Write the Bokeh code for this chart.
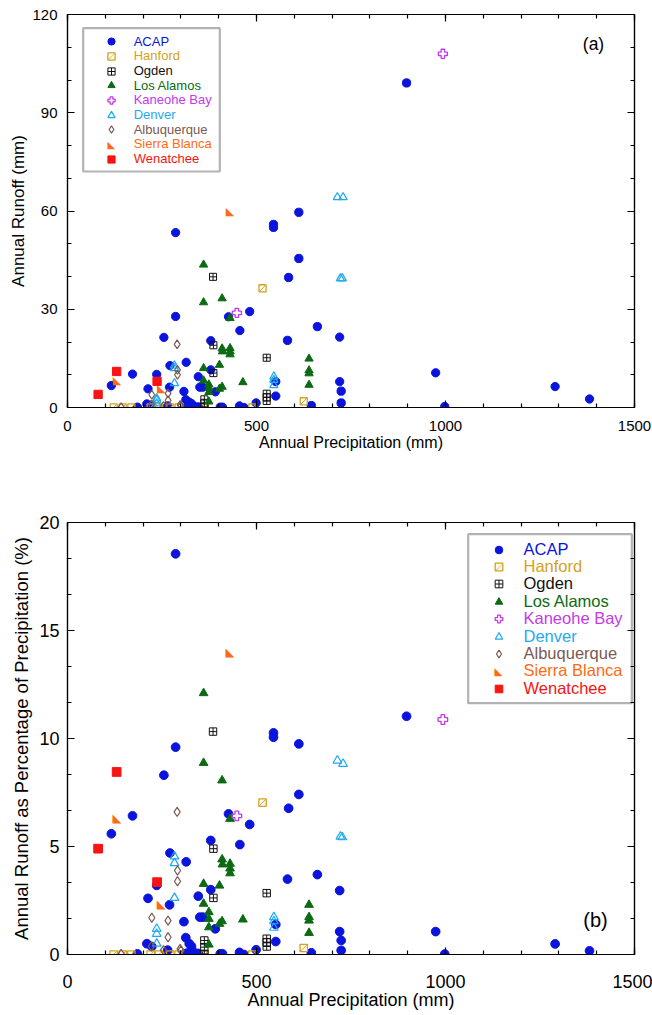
import math
from bokeh.plotting import figure
from bokeh.models import (ColumnDataSource, Legend, LegendItem, LinearAxis, BoxAnnotation,
                          Label, FixedTicker, Range1d, CustomJSTickFormatter)
from bokeh.layouts import column
from bokeh.embed import file_html
from bokeh.resources import INLINE
from bokeh.core.properties import value

FONT = "Liberation Sans"

# ---------------- data (precipitation mm, runoff mm, runoff % of precipitation) -------------
acap_precip = [897, 612, 545, 545, 286, 612, 585, 482, 286, 426, 661, 456, 255, 720, 582, 379,
               314, 271, 236, 172, 379, 974, 346, 116, 213, 350, 358, 308, 551, 551, 720, 724,
               724, 998, 1290, 1381, 645, 499, 391, 270, 313, 322, 328, 210, 223, 185, 265, 316,
               326, 336, 346, 404, 410, 455, 467]
acap_runoff = [99.1, 59.6, 55.9, 55.0, 53.4, 45.5, 39.7, 29.3, 27.8, 27.7, 24.7, 23.5, 21.4, 21.5,
               20.5, 20.4, 13.8, 12.8, 10.1, 10.2, 11.5, 10.6, 9.4, 6.7, 5.7, 6.2, 6.2, 4.9, 3.5,
               7.9, 7.9, 5.0, 1.4, 0.3, 6.4, 2.6, 0.6, 1.4, 4.8, 6.2, 2.4, 1.6, 1.2, 1.1, 0.8, 0.1,
               0.5, 0.2, 0.2, 0.3, 0.2, 0.1, 0.1, 0.5, 0.0]
acap_pct = [11.03, 9.75, 10.26, 10.06, 18.55, 7.41, 6.77, 6.02, 9.6, 6.51, 3.70, 5.09, 8.30, 2.96,
            3.49, 5.28, 4.29, 4.70, 3.20, 6.42, 3.00, 1.06, 2.70, 5.59, 2.60, 1.73, 1.73, 1.52,
            0.60, 1.39, 1.06, 0.65, 0.19, 0.02, 0.49, 0.17, 0.08, 0.22, 1.19, 2.30, 0.78, 0.50,
            0.38, 0.50, 0.37, 0.03, 0.20, 0.06, 0.05, 0.08, 0.05, 0.03, 0.03, 0.10, 0.00]

hanford_precip = [122, 146, 169, 220, 242, 272, 294, 363, 489, 625, 516]
hanford_runoff = [0, 0, 0, 0, 0, 0, 0, 0, 0, 1.9, 36.4]
hanford_pct = [0, 0, 0, 0, 0, 0, 0, 0, 0, 0.30, 7.03]

ogden_precip = [385, 386, 386, 527, 527, 527, 527, 362, 362, 362]
ogden_runoff = [39.9, 19.0, 10.5, 15.2, 4.2, 3.1, 2.0, 2.5, 1.2, 0.1]
ogden_pct = [10.32, 4.90, 2.62, 2.84, 0.73, 0.57, 0.37, 0.65, 0.34, 0.03]

losalamos_precip = [360, 409, 360, 430, 409, 410, 430, 430, 430, 402, 360, 639, 639, 639, 639,
                    360, 464, 374, 374, 374, 402, 409, 374]
losalamos_runoff = [43.6, 33.3, 32.1, 27.3, 18.0, 17.1, 18.1, 17.1, 16.2, 13.0, 12.0, 14.9, 11.3,
                    10.4, 6.9, 8.2, 7.7, 7.0, 5.9, 4.7, 5.7, 6.3, 1.8]
losalamos_pct = [12.1, 8.06, 8.87, 6.28, 4.40, 4.17, 4.20, 3.98, 3.76, 3.19, 3.27, 2.30, 1.73,
                 1.57, 1.00, 2.35, 1.62, 1.96, 1.65, 1.26, 1.42, 1.54, 0.46]

kaneohe_precip = [993, 448]
kaneohe_runoff = [108.0, 28.9]
kaneohe_pct = [10.88, 6.42]

denver_precip = [714, 729, 722, 727, 283, 283, 283, 236, 236, 236, 546, 546, 546]
denver_runoff = [64.2, 64.2, 39.4, 39.4, 12.8, 12.0, 7.4, 2.8, 2.25, 1.2, 9.4, 8.4, 6.8]
denver_pct = [8.98, 8.83, 5.46, 5.43, 4.54, 4.23, 2.62, 1.19, 0.96, 0.50, 1.73, 1.54, 1.24]

albuquerque_precip = [290, 291, 291, 223, 266, 266, 222, 254, 298, 300, 142]
albuquerque_runoff = [19.3, 11.5, 10.0, 3.9, 4.3, 2.2, 0.85, 0.5, 0.8, 0.55, 0.1]
albuquerque_pct = [6.6, 3.89, 3.39, 1.70, 1.57, 0.80, 0.38, 0.20, 0.26, 0.18, 0.03]

sierrablanca_precip = [430, 131, 248]
sierrablanca_runoff = [60.0, 8.3, 5.8]
sierrablanca_pct = [14.0, 6.3, 2.35]

wenatchee_precip = [130, 237, 81]
wenatchee_runoff = [11.0, 8.0, 4.0]
wenatchee_pct = [8.45, 3.35, 4.9]

site_names = ["ACAP", "Hanford", "Ogden", "Los Alamos", "Kaneohe Bay", "Denver",
              "Albuquerque", "Sierra Blanca", "Wenatchee"]
site_data = {
    "ACAP": (acap_precip, acap_runoff, acap_pct),
    "Hanford": (hanford_precip, hanford_runoff, hanford_pct),
    "Ogden": (ogden_precip, ogden_runoff, ogden_pct),
    "Los Alamos": (losalamos_precip, losalamos_runoff, losalamos_pct),
    "Kaneohe Bay": (kaneohe_precip, kaneohe_runoff, kaneohe_pct),
    "Denver": (denver_precip, denver_runoff, denver_pct),
    "Albuquerque": (albuquerque_precip, albuquerque_runoff, albuquerque_pct),
    "Sierra Blanca": (sierrablanca_precip, sierrablanca_runoff, sierrablanca_pct),
    "Wenatchee": (wenatchee_precip, wenatchee_runoff, wenatchee_pct),
}
site_colors = {
    "ACAP": "#0a14dc", "Hanford": "#d4a11c", "Ogden": "#111111", "Los Alamos": "#0b6a12",
    "Kaneohe Bay": "#c43ae8", "Denver": "#1eaaf0", "Albuquerque": "#7a5a52",
    "Sierra Blanca": "#ff6a14", "Wenatchee": "#f81414",
}

x_major = [0, 500, 1000, 1500]
panel_label_text = {"runoff": "(a)", "pct": "(b)"}


def add_site(p, name, ycol, scale):
    xs, runoff, pct = site_data[name]
    ys = runoff if ycol == "runoff" else pct
    src = ColumnDataSource(dict(x=xs, y=ys))
    c = site_colors[name]
    s = 8.3 * scale
    rs = []
    if name == "ACAP":
        rs.append(p.scatter("x", "y", source=src, marker="circle", size=s, fill_color=c, line_color=c))
    elif name == "Hanford":
        rs.append(p.scatter("x", "y", source=src, marker="square", size=s * 0.85, fill_color=None,
                            line_color=c, line_width=1.3))
        p.scatter("x", "y", source=src, marker="dash", size=s * 0.95, angle=math.pi / 4,
                  line_color=c, line_width=1)
    elif name == "Ogden":
        rs.append(p.scatter("x", "y", source=src, marker="square_cross", size=s * 0.85, fill_color=None,
                            line_color=c, line_width=1))
    elif name == "Los Alamos":
        rs.append(p.scatter("x", "y", source=src, marker="triangle", size=s, fill_color=c, line_color=c))
    elif name == "Kaneohe Bay":
        rs.append(p.scatter("x", "y", source=src, marker="plus", size=s * 1.1, fill_color=None,
                            line_color=c, line_width=1.3))
    elif name == "Denver":
        rs.append(p.scatter("x", "y", source=src, marker="triangle", size=s, fill_color=None,
                            line_color=c, line_width=1.2))
    elif name == "Albuquerque":
        rs.append(p.scatter("x", "y", source=src, marker="diamond", size=s * 1.05, fill_color=None,
                            line_color=c, line_width=1.2))
    elif name == "Sierra Blanca":
        rs.append(p.text("x", "y", source=src, text=value("\u25e3"), text_color=c,
                         text_font=value("DejaVu Sans"), text_font_size=f"{11 * scale:.1f}px",
                         text_align="center", text_baseline="middle"))
    elif name == "Wenatchee":
        rs.append(p.scatter("x", "y", source=src, marker="square", size=s, fill_color=c, line_color=c))
    return rs


def build(ycol, height, ymax, ymajor, yminor, borders, ylabel, fonts, standoffs,
          leg, panel_label, scale):
    bl, br, bt, bb = borders
    tick_fs, xtitle_fs, ytitle_fs = fonts
    xs_lab, xs_tit, ys_lab, ys_tit = standoffs
    p = figure(width=652, height=height, x_range=Range1d(0, 1500), y_range=Range1d(0, ymax),
               output_backend="svg", toolbar_location=None,
               min_border_left=bl, min_border_right=br, min_border_top=bt, min_border_bottom=bb)
    p.xgrid.visible = False
    p.ygrid.visible = False
    p.outline_line_color = "black"
    p.outline_line_width = 1.2
    p.background_fill_color = "white"
    p.border_fill_color = "white"

    xt = FixedTicker(ticks=x_major, minor_ticks=list(range(0, 1501, 100)))
    yt = FixedTicker(ticks=ymajor, minor_ticks=yminor)

    p.xaxis.ticker = xt
    p.yaxis.ticker = yt
    blank = CustomJSTickFormatter(code="return ''")
    p.add_layout(LinearAxis(ticker=xt, formatter=blank, major_label_standoff=0), "above")
    p.add_layout(LinearAxis(ticker=yt, formatter=blank, major_label_standoff=0), "right")

    for ax in p.axis:
        ax.major_tick_in = 7
        ax.major_tick_out = 0
        ax.minor_tick_in = 4
        ax.minor_tick_out = 0
        ax.axis_line_color = "black"
        ax.axis_line_width = 1.2
        ax.major_tick_line_width = 1.2
        ax.minor_tick_line_width = 1.2
        ax.major_label_text_font = FONT
        ax.major_label_text_color = "black"
        ax.major_label_text_font_size = f"{tick_fs}px"
        ax.axis_label_text_font = FONT
        ax.axis_label_text_font_style = "normal"
        ax.axis_label_text_color = "black"
    bx = p.below[0]
    bx.axis_label = "Annual Precipitation (mm)"
    bx.axis_label_text_font_size = f"{xtitle_fs}px"
    bx.major_label_standoff = xs_lab
    bx.axis_label_standoff = xs_tit
    ly = p.left[0]
    ly.axis_label = ylabel
    ly.axis_label_text_font_size = f"{ytitle_fs}px"
    ly.major_label_standoff = ys_lab
    ly.axis_label_standoff = ys_tit

    site_rs = {}
    for name in site_names:
        site_rs[name] = add_site(p, name, ycol, scale)

    # legend: bordered box + one single-item legend per site (labels in site colours)
    (box_l, box_r, box_t, box_b, gx, tx, row0, dy, fs, gbox) = leg
    p.add_layout(BoxAnnotation(left=box_l, right=box_r, top=box_t, bottom=box_b,
                               left_units="screen", right_units="screen",
                               top_units="screen", bottom_units="screen",
                               fill_color="white", fill_alpha=1.0,
                               line_color="black", line_width=2.2, level="underlay"))
    for i, name in enumerate(site_names):
        gy = row0 - i * dy
        lg = Legend(items=[LegendItem(label=name, renderers=site_rs[name])],
                    location=(gx - gbox / 2, gy - gbox / 2),
                    glyph_width=gbox, glyph_height=gbox, label_height=gbox, label_width=10,
                    label_standoff=int(round(tx - (gx + gbox / 2))), padding=0, margin=0,
                    spacing=0, background_fill_alpha=0, border_line_alpha=0,
                    label_text_color=site_colors[name], label_text_font=FONT,
                    label_text_font_size=f"{fs}px", label_text_baseline="middle")
        p.add_layout(lg)
        if name == "Sierra Blanca":
            p.add_layout(Label(x=gx, y=gy, x_units="screen", y_units="screen", text="\u25e3",
                               text_font="DejaVu Sans", text_font_size=f"{gbox * 0.55:.1f}px",
                               text_color=site_colors[name], text_align="center",
                               text_baseline="middle", level="overlay"))
        if name == "Hanford":
            p.add_layout(Label(x=gx, y=gy, x_units="screen", y_units="screen", text="\u2014",
                               text_font=FONT, text_font_size=f"{gbox * 0.45:.1f}px",
                               angle=math.pi / 4, text_color=site_colors[name],
                               text_align="center", text_baseline="middle", level="overlay"))

    lx, lyy, lfs = panel_label
    p.add_layout(Label(x=lx, y=lyy, x_units="screen", y_units="screen", text=panel_label_text[ycol],
                       text_font=FONT, text_font_size=f"{lfs}px", text_align="center",
                       text_baseline="middle", text_color="black"))
    return p


# top panel: frame x 67..634, y 14..407 (page coords)
p1 = build("runoff", 468, 120, [0, 30, 60, 90, 120], list(range(0, 121, 10)),
           (67, 18, 14, 61), "Annual Runoff (mm)", (15, 16, 17), (13, 0, 10, 1),
           (15.7, 152.3, 379.3, 236.0, 43.7, 67.0, 407 - 41.3, 14.67, 13, 18),
           (526, 364, 17.5), 1.0)

# bottom panel: frame x 65..636, y 522..954 (page coords)
p2 = build("pct", 547, 20, [0, 5, 10, 15, 20], [i * 5 / 3 for i in range(13)],
           (65, 16, 54, 61), "Annual Runoff as Percentage of Precipitation (%)", (18, 18, 18.5),
           (20, -1, 8, 4),
           (400.7, 564.3, 420.3, 251.3, 431.0, 456.7, 954 - 549, 17.4, 16.5, 19),
           (528, 35, 20), 1.05)

layout = column(p1, p2, spacing=0)
open("out.html", "w").write(file_html(layout, INLINE))
